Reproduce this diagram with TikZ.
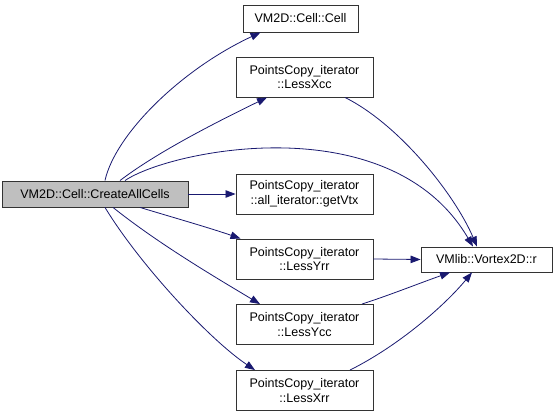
\documentclass[tikz,border=0pt]{standalone}
\usepackage{fontspec}
\setmainfont{Liberation Sans}
\usetikzlibrary{arrows.meta}
\definecolor{edgeblue}{HTML}{191970}
\definecolor{mainfill}{HTML}{BFBFBF}
\definecolor{boxline}{HTML}{333333}
\begin{document}
\begin{tikzpicture}[x=1pt, y=-1pt, >={Triangle[length=10pt,width=7.5pt]},
  fn/.style={draw=boxline, fill=white, line width=0.9pt, inner sep=0pt, align=center,
    font=\fontsize{12.5}{14.5}\selectfont},
  call/.style={->, edgeblue, line width=0.8pt}]

  \useasboundingbox (0,0) rectangle (557,417);

  % Caller
  \node[fn, fill=mainfill, minimum width=186pt, minimum height=26pt] (create) at (95,194) {VM2D::Cell::CreateAllCells};

  % Callees
  \node[fn, minimum width=115pt, minimum height=27pt] (cell) at (300.5,18.5) {VM2D::Cell::Cell};
  \node[fn, minimum width=137pt, minimum height=40pt] (lessxcc) at (304.5,77) {PointsCopy\_iterator\\::LessXcc};
  \node[fn, minimum width=137pt, minimum height=40pt] (getvtx) at (304.5,194) {PointsCopy\_iterator\\::all\_iterator::getVtx};
  \node[fn, minimum width=137pt, minimum height=40pt] (lessyrr) at (304.5,259) {PointsCopy\_iterator\\::LessYrr};
  \node[fn, minimum width=137pt, minimum height=40pt] (lessycc) at (304.5,324.5) {PointsCopy\_iterator\\::LessYcc};
  \node[fn, minimum width=137pt, minimum height=40pt] (lessxrr) at (304.5,390.5) {PointsCopy\_iterator\\::LessXrr};
  \node[fn, minimum width=131pt, minimum height=25pt] (vortex) at (486.5,259.5) {VMlib::Vortex2D::r};

  % Calls from CreateAllCells
  \draw[call] ([xshift=10pt]create.north) .. controls (115,135) and (180,70) .. ([xshift=-40pt]cell.south);
  \draw[call] ([xshift=25pt]create.north) .. controls (160,150) and (225,118) .. ([xshift=-37.5pt]lessxcc.south);
  \draw[call] ([xshift=30pt]create.north) .. controls (170,150) and (390,105) .. ([xshift=-13.5pt]vortex.north);
  \draw[call] (create.east) -- (getvtx.west);
  \draw[call] ([xshift=45pt]create.south) .. controls (175,218) and (210,228) .. ([xshift=-64pt]lessyrr.north);
  \draw[call] ([xshift=18pt]create.south) .. controls (160,245) and (220,280) .. ([xshift=-44.5pt]lessycc.north);
  \draw[call] ([xshift=10pt]create.south) .. controls (140,265) and (210,340) .. ([xshift=-49.5pt]lessxrr.north);

  % Calls to Vortex2D::r
  \draw[call] ([xshift=40.5pt]lessxcc.south) .. controls (400,125) and (455,195) .. ([xshift=-9.5pt]vortex.north);
  \draw[call] (lessyrr.east) -- (vortex.west);
  \draw[call] ([xshift=57.5pt]lessycc.north) .. controls (390,295) and (420,283) .. ([xshift=-36.5pt]vortex.south);
  \draw[call] ([xshift=45.5pt]lessxrr.north) .. controls (400,345) and (445,305) .. ([xshift=-14.5pt]vortex.south);

\end{tikzpicture}
\end{document}
